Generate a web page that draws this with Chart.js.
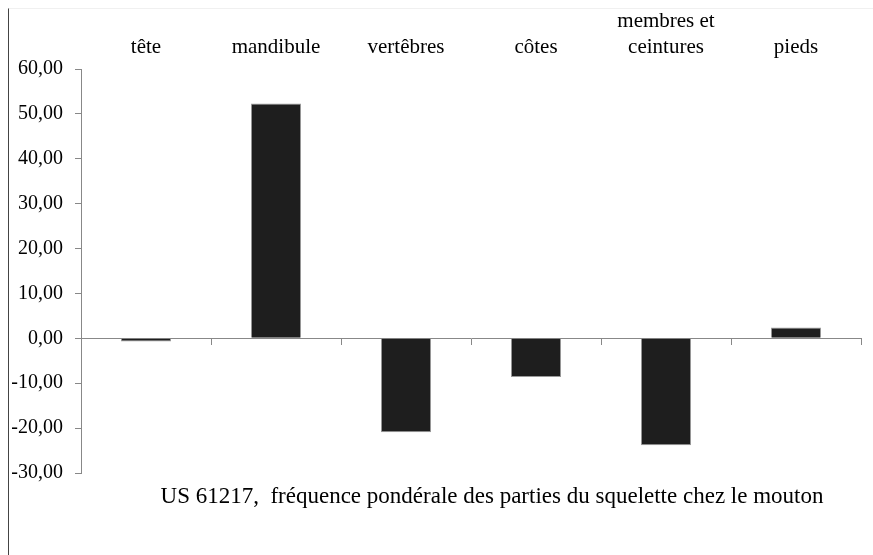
<!DOCTYPE html>
<html>
<head>
<meta charset="utf-8">
<script src="https://cdn.jsdelivr.net/npm/chart.js@4/dist/chart.umd.min.js"></script>
<style>
  html, body { margin: 0; padding: 0; background: #fff; }
  #wrap { position: relative; width: 873px; height: 555px; }
  #edge { position: absolute; left: 8px; top: 8px; bottom: 0; border-left: 1px solid #444; border-top: 1px solid #f0f0f0; width: 865px; }
  canvas { position: absolute; left: 0; top: 0; }
</style>
</head>
<body>
<div id="wrap">
  <div id="edge"></div>
  <canvas id="chart" width="873" height="555"></canvas>
</div>
<script>
// Data
const categories = ['tête', 'mandibule', 'vertêbres', 'côtes', ['membres et', 'ceintures'], 'pieds'];
const values = [-0.7, 52.3, -20.9, -8.6, -23.8, 2.4];
const yMin = -30, yMax = 60, yStep = 10;
const caption = 'US 61217,  fréquence pondérale des parties du squelette chez le mouton';

const serif = "'Liberation Serif', 'DejaVu Serif', serif";

// caption under the plot
const captionPlugin = {
    id: 'caption',
    afterDraw(chart) {
        const ctx = chart.ctx;
        ctx.save();
        ctx.font = '23px ' + serif;
        ctx.fillStyle = '#000';
        ctx.textAlign = 'center';
        ctx.textBaseline = 'middle';
        ctx.fillText(caption, 492, 497);
        ctx.restore();
    }
};

const ctx = document.getElementById('chart').getContext('2d');
new Chart(ctx, {
    type: 'bar',
    data: {
        labels: categories,
        datasets: [{
            data: values,
            backgroundColor: '#1e1e1e',
            borderColor: '#9a9a9a',
            borderWidth: 1,
            barPercentage: 0.385,
            categoryPercentage: 1,
            xAxisID: 'x'
        }]
    },
    options: {
        responsive: false,
        animation: false,
        layout: { padding: { left: 0, right: 12, top: 0, bottom: 82 } },
        plugins: {
            legend: { display: false },
            tooltip: { enabled: false }
        },
        scales: {
            x: {
                type: 'category',
                position: { y: 0 },
                offset: true,
                grid: { drawOnChartArea: false, drawTicks: true, tickLength: 6, color: '#888', offset: true },
                border: { color: '#888', width: 1 },
                ticks: { display: false }
            },
            x2: {
                type: 'category',
                position: 'top',
                labels: categories,
                offset: true,
                grid: { display: false },
                border: { display: false },
                ticks: {
                    color: '#000',
                    font: { family: serif, size: 21, lineHeight: 1.25 },
                    padding: 0,
                    maxRotation: 0,
                    autoSkip: false
                },
                afterFit: s => { s.height = 69; }
            },
            y: {
                min: yMin,
                max: yMax,
                grid: { drawOnChartArea: false, drawTicks: true, tickLength: 6, color: '#888' },
                border: { color: '#888', width: 1 },
                ticks: {
                    stepSize: yStep,
                    color: '#000',
                    padding: 12,
                    font: { family: serif, size: 20 },
                    callback: v => v.toFixed(2).replace('.', ',')
                },
                afterFit: s => { s.width = 81; }
            }
        }
    },
    plugins: [captionPlugin]
});
</script>
</body>
</html>
